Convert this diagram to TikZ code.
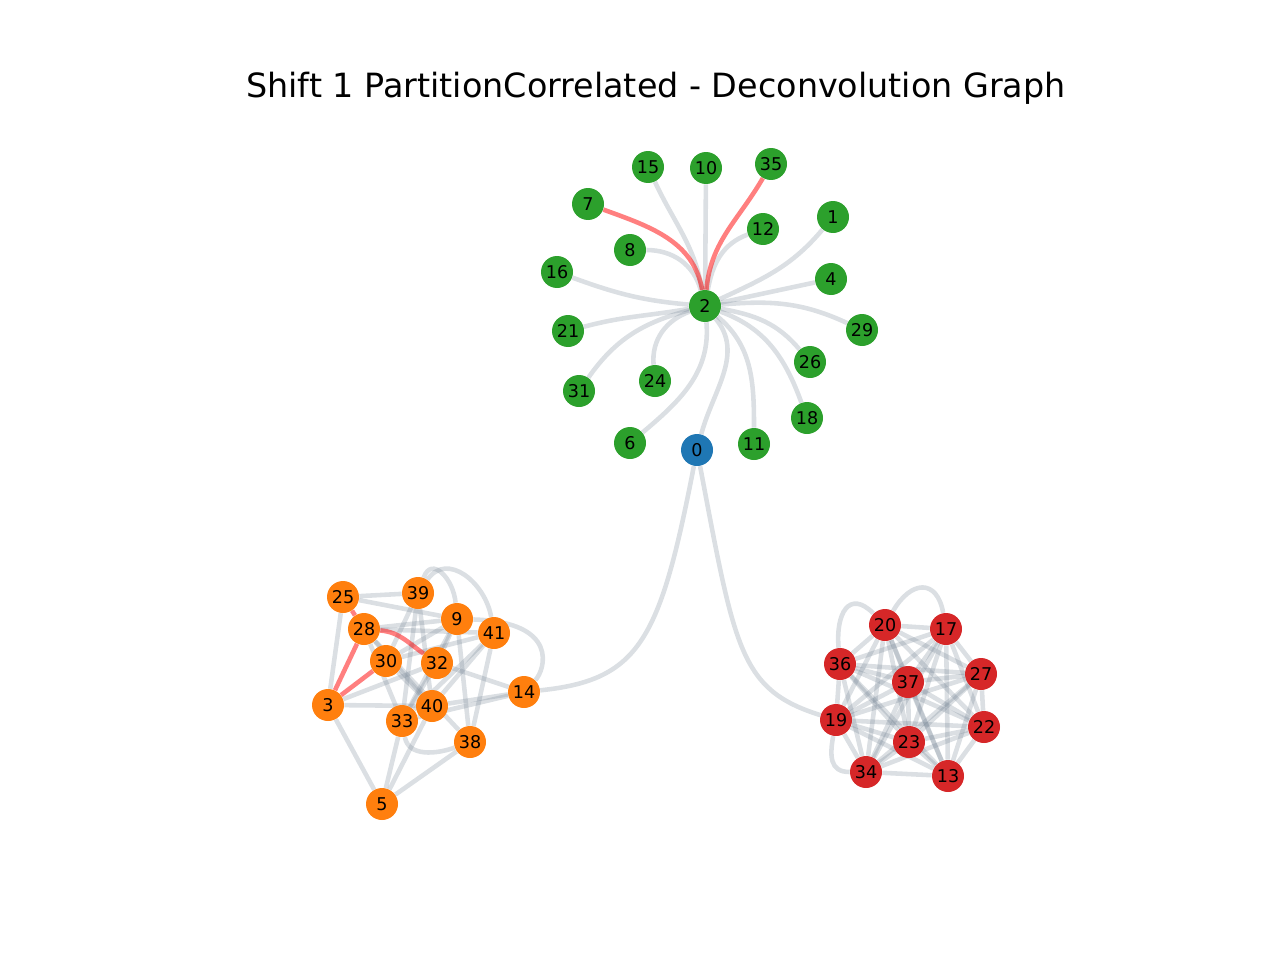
\documentclass[tikz,border=0pt]{standalone}
\usepackage{fontspec}
\setmainfont{DejaVu Sans}
\usetikzlibrary{backgrounds}
\definecolor{tabgreen}{HTML}{2CA02C}
\definecolor{taborange}{HTML}{FF7F0E}
\definecolor{tabred}{HTML}{D62728}
\definecolor{tabblue}{HTML}{1F77B4}
\definecolor{edgegray}{HTML}{708090}

\begin{document}
\begin{tikzpicture}[
    x=0.02cm, y=0.02cm,
    vertex/.style={circle, minimum size=0.64cm, inner sep=0pt, font=\fontsize{10}{11}\selectfont},
    link/.style={edgegray, opacity=0.25, line width=2.6pt},
    redlink/.style={red, opacity=0.5, line width=2.6pt}
]
    \useasboundingbox (0,0) rectangle (1280,-960);
    \node[font=\fontsize{19}{23}\selectfont] (title) at (656,-88) {Shift 1 PartitionCorrelated - Deconvolution Graph};

    % Green star round node 2
    \foreach \n/\x/\y in {15/648/167, 10/706/168, 35/771/164, 7/588/204, 12/763/229,
        1/833/217, 8/630/250, 16/557/272, 4/831/279, 2/705/306, 29/862/330,
        21/568/331, 26/810/362, 31/579/391, 24/655/381, 18/807/418, 6/630/443, 11/754/444}
        \node[vertex, fill=tabgreen] (n\n) at (\x,-\y) {\n};
    \node[vertex, fill=tabblue] (n0) at (697,-450) {0};

    % Orange cluster
    \foreach \n/\x/\y in {25/343/597, 39/418/593, 9/457/619, 41/494/633, 28/364/629,
        30/386/661, 32/437/663, 14/524/692, 3/328/705, 40/432/706, 33/402/721,
        38/470/742, 5/382/804}
        \node[vertex, fill=taborange] (n\n) at (\x,-\y) {\n};

    % Red cluster
    \foreach \n/\x/\y in {20/885/625, 17/946/629, 36/840/664, 27/981/674, 37/908/682,
        19/836/720, 22/984/727, 23/909/742, 34/866/772, 13/948/776}
        \node[vertex, fill=tabred] (n\n) at (\x,-\y) {\n};

    \begin{scope}[on background layer]
        % star edges
        \foreach \b/\o/\i in {15/100/-65, 12/80/200, 8/105/0, 1/25/-130, 16/175/-20,
            29/5/155, 21/190/15, 26/-10/130, 31/195/55, 24/200/95, 18/-20/110,
            6/-85/40, 11/-40/90, 0/-50/75}
            \draw[link] (n2) to[out=\o, in=\i] (n\b);
        \draw[link] (n2) -- (n10);
        \draw[link] (n2) -- (n4);
        \draw[redlink] (n2) to[out=100, in=-20] (n7);
        \draw[redlink] (n2) to[out=85, in=-120] (n35);

        % bridges from node 0
        \draw[link] (n0) .. controls (660,-640) and (640,-680) .. (n14);
        \draw[link] (n0) .. controls (735,-650) and (740,-690) .. (n19);

        % orange edges
        \foreach \a/\b in {25/39, 25/9, 25/3, 28/9, 28/41, 28/40, 28/33, 28/38,
            39/30, 39/33, 39/40, 30/40, 30/9, 30/41, 32/9, 32/33, 32/14, 32/3,
            3/40, 3/5, 40/14, 33/14, 9/38, 41/38, 41/33, 41/40, 9/33,
            5/33, 5/40, 5/38}
            \draw[link] (n\a) -- (n\b);
        \draw[link] (n39) to[out=70, in=95, looseness=1.5] (n9);
        \draw[link] (n39) to[out=55, in=100, looseness=1.2] (n41);
        \draw[link] (n9) .. controls (560,-622) and (545,-670) .. (n14);
        \draw[link] (n33) to[out=-80, in=-160] (n38);
        \draw[redlink] (n25) -- (n28);
        \draw[redlink] (n28) -- (n3);
        \draw[redlink] (n30) -- (n3);
        \draw[redlink] (n28) to[out=-5, in=145] (n32);

        % red edges
        \foreach \a [count=\i] in {20,17,36,27,37,19,22,23,34,13}
            \foreach \b [count=\j] in {20,17,36,27,37,19,22,23,34,13}
            {
                \ifnum\i<\j \draw[link] (n\a) -- (n\b); \fi
            }
        \draw[link] (n36) to[out=95, in=135, looseness=1.8] (n20);
        \draw[link] (n20) to[out=60, in=100, looseness=1.8] (n17);
        \draw[link] (n19) to[out=-100, in=180, looseness=1.3] (n34);
    \end{scope}
\end{tikzpicture}
\end{document}
